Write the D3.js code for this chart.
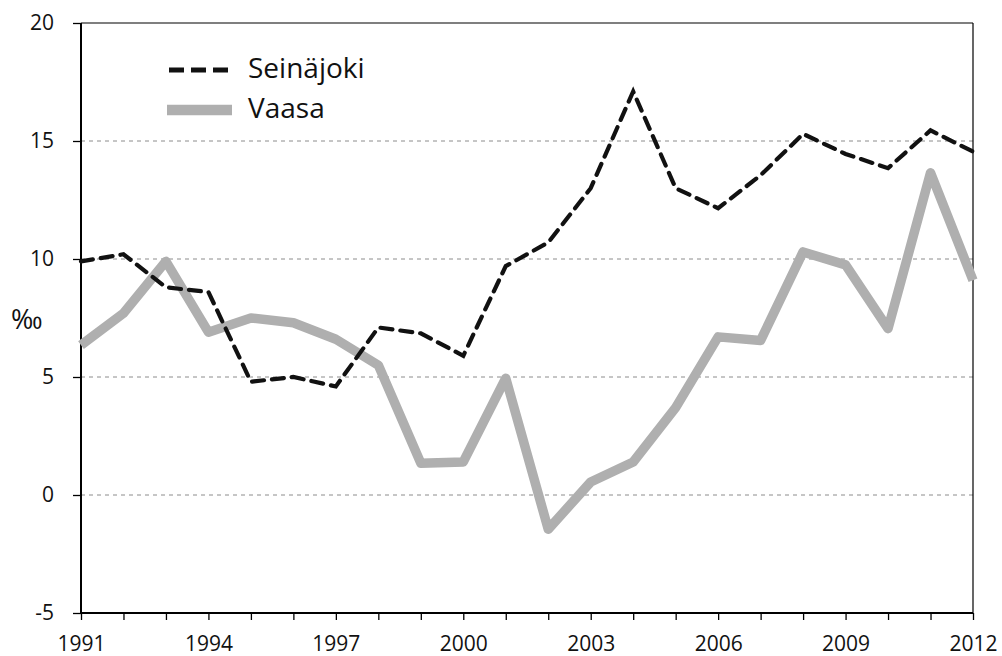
<!DOCTYPE html>
<html>
<head>
<meta charset="utf-8">
<script src="https://cdn.jsdelivr.net/npm/d3@7"></script>
<style>
    body { margin: 0; background: #fff; }
    svg { display: block; font-family: "Open Sans", "Liberation Sans", sans-serif; }
</style>
</head>
<body>
<main></main>
<script>
// Data
const years = d3.range(1991, 2013)
const seinajoki = [9.9, 10.2, 8.8, 8.6, 4.8, 5.0, 4.6, 7.1, 6.85, 5.9, 9.7, 10.7, 13.0, 17.1, 13.0, 12.15, 13.55, 15.3, 14.45, 13.85, 15.45, 14.55]
const vaasa = [6.35, 7.7, 9.9, 6.9, 7.5, 7.3, 6.6, 5.5, 1.35, 1.4, 4.95, -1.45, 0.55, 1.4, 3.7, 6.7, 6.55, 10.3, 9.75, 7.05, 13.65, 9.1]
const yTicks = [-5, 0, 5, 10, 15, 20]
const xLabels = [1991, 1994, 1997, 2000, 2003, 2006, 2009, 2012]

function GeneratePlot() {
    const total_width = 1002
    const height = 656
    const margin = { top: 23, right: 29, bottom: 43, left: 81 }
    const width = total_width - margin.left - margin.right
    const plotH = height - margin.top - margin.bottom

    const svg = d3.select('main')
        .append('svg')
        .attr('width', total_width)
        .attr('height', height)

    const g = svg.append('g')
        .attr('transform', `translate(${margin.left},${margin.top})`)

    const x = d3.scaleLinear().domain([1991, 2012]).range([0, width])
    const y = d3.scaleLinear().domain([-5, 20]).range([plotH, 0])

    // grid
    g.selectAll('line.grid')
        .data(yTicks.filter(d => d > -5 && d < 20))
        .enter()
        .append('line')
        .attr('x1', 0)
        .attr('x2', width)
        .attr('y1', d => y(d))
        .attr('y2', d => y(d))
        .attr('stroke', '#8c8c8c')
        .attr('stroke-width', 1)
        .attr('stroke-dasharray', '4,4')

    // frame: top and right
    g.append('line')
        .attr('x1', 0).attr('x2', width)
        .attr('y1', y(20)).attr('y2', y(20))
        .attr('stroke', '#000').attr('stroke-width', 1.2)
    g.append('line')
        .attr('x1', width).attr('x2', width)
        .attr('y1', y(20)).attr('y2', y(-5))
        .attr('stroke', '#000').attr('stroke-width', 1.2)

    // axes
    const xAxis = d3.axisBottom(x)
        .tickValues(years)
        .tickSize(7)
        .tickFormat(d => xLabels.includes(d) ? d : '')
    const yAxis = d3.axisLeft(y)
        .tickValues(yTicks)
        .tickSize(8)
        .tickFormat(d => d)

    const gx = g.append('g')
        .attr('transform', `translate(0,${plotH})`)
        .call(xAxis)
    const gy = g.append('g').call(yAxis)

    ;[gx, gy].forEach(a => {
        a.attr('font-size', 21).attr('font-family', '"Open Sans", "Liberation Sans", sans-serif')
        a.select('.domain').attr('stroke', '#000').attr('stroke-width', 2)
        a.selectAll('.tick line').attr('stroke', '#000').attr('stroke-width', 1.3)
        a.selectAll('text').attr('fill', '#111')
    })
    gx.select('.domain').attr('d', `M0,0H${width}`)
    gy.select('.domain').attr('d', `M0,0V${plotH}`)
    gx.selectAll('text').attr('dy', null).attr('y', 38)
    gy.selectAll('text').attr('x', -27)

    // unit label
    svg.append('text')
        .attr('x', 11)
        .attr('y', 329)
        .attr('font-size', 27)
        .attr('fill', '#111')
        .text('‰')

    const line = d3.line()
        .x((d, i) => x(years[i]))
        .y(d => y(d))

    g.append('path')
        .datum(vaasa)
        .attr('d', line)
        .attr('fill', 'none')
        .attr('stroke', '#afafaf')
        .attr('stroke-width', 9.5)
        .attr('stroke-linejoin', 'round')

    g.append('path')
        .datum(seinajoki)
        .attr('d', line)
        .attr('fill', 'none')
        .attr('stroke', '#111')
        .attr('stroke-width', 4.2)
        .attr('stroke-dasharray', '12,8')
        .attr('stroke-linecap', 'round')

    // legend
    const legend = svg.append('g')
    legend.append('line')
        .attr('x1', 169).attr('x2', 228)
        .attr('y1', 70).attr('y2', 70)
        .attr('stroke', '#111').attr('stroke-width', 5)
        .attr('stroke-dasharray', '15,7')
    legend.append('line')
        .attr('x1', 167).attr('x2', 232)
        .attr('y1', 110).attr('y2', 110)
        .attr('stroke', '#afafaf').attr('stroke-width', 10.5)
    legend.append('text')
        .attr('x', 248).attr('y', 78)
        .attr('font-size', 28).attr('fill', '#111')
        .text('Seinäjoki')
    legend.append('text')
        .attr('x', 248).attr('y', 118)
        .attr('font-size', 28).attr('fill', '#111')
        .text('Vaasa')
}

GeneratePlot()
</script>
</body>
</html>
